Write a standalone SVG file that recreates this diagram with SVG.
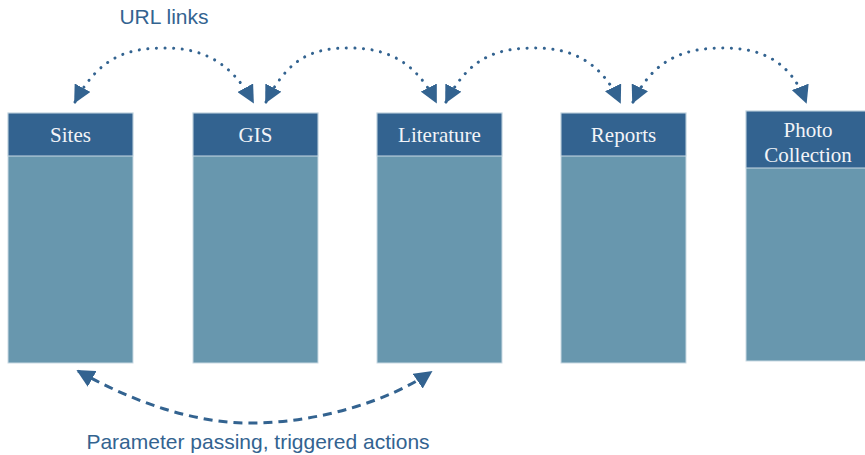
<svg xmlns="http://www.w3.org/2000/svg" width="865" height="455" viewBox="0 0 865 455">
<defs>
<style>
.body{fill:#6897ae;stroke:#c9d9e3;stroke-width:1}
.head{fill:#336390;stroke:#c9d9e3;stroke-width:1}
.lbl{font-family:"Liberation Serif","Times New Roman",serif;font-size:21px;fill:#f2f4f8;text-anchor:middle}
.cap{font-family:"Liberation Sans",Arial,sans-serif;font-size:21px;fill:#336390;text-anchor:middle}
.dot{fill:none;stroke:#336390;stroke-width:3;stroke-linecap:round;stroke-dasharray:0.1 8.5}
.dash{fill:none;stroke:#336390;stroke-width:3;stroke-dasharray:9 6}
</style>
<marker id="ah" viewBox="0 0 10 10" refX="9" refY="5" markerWidth="6" markerHeight="6" orient="auto-start-reverse" markerUnits="strokeWidth">
<path d="M0,0 L10,5 L0,10 z" fill="#336390"/>
</marker>
</defs>
<g id="sites"><rect class="body" x="8" y="113" width="125" height="250"/><rect class="head" x="8" y="113" width="125" height="43"/><text class="lbl" x="70.5" y="142">Sites</text></g>
<g id="gis"><rect class="body" x="193" y="113" width="125" height="250"/><rect class="head" x="193" y="113" width="125" height="43"/><text class="lbl" x="255.5" y="142">GIS</text></g>
<g id="literature"><rect class="body" x="377" y="113" width="125" height="250"/><rect class="head" x="377" y="113" width="125" height="43"/><text class="lbl" x="439.5" y="142">Literature</text></g>
<g id="reports"><rect class="body" x="561" y="113" width="125" height="250"/><rect class="head" x="561" y="113" width="125" height="43"/><text class="lbl" x="623.5" y="142">Reports</text></g>
<g id="photo"><rect class="body" x="746" y="111" width="125" height="250"/><rect class="head" x="746" y="111" width="125" height="57"/><text class="lbl" x="808" y="137">Photo</text><text class="lbl" x="808" y="162">Collection</text></g>
<g id="connectors">
<path class="dot" d="M75,102 C100,55 130,48 165,48 C200,48 230,60 253,102" marker-start="url(#ah)" marker-end="url(#ah)"/>
<path class="dot" d="M266,102 C290,55 315,48 350,48 C385,48 415,60 436,102" marker-start="url(#ah)" marker-end="url(#ah)"/>
<path class="dot" d="M446,102 C470,55 500,48 535,48 C570,48 600,60 620,102" marker-start="url(#ah)" marker-end="url(#ah)"/>
<path class="dot" d="M633,102 C655,55 690,48 724,48 C760,48 790,60 806,102" marker-start="url(#ah)" marker-end="url(#ah)"/>
<path class="dash" d="M78,371 C130,400 190,423 250,423 C320,423 390,400 431,372" marker-start="url(#ah)" marker-end="url(#ah)"/>
<text class="cap" x="164" y="24">URL links</text>
<text class="cap" x="258" y="449">Parameter passing, triggered actions</text>
</g>
</svg>
